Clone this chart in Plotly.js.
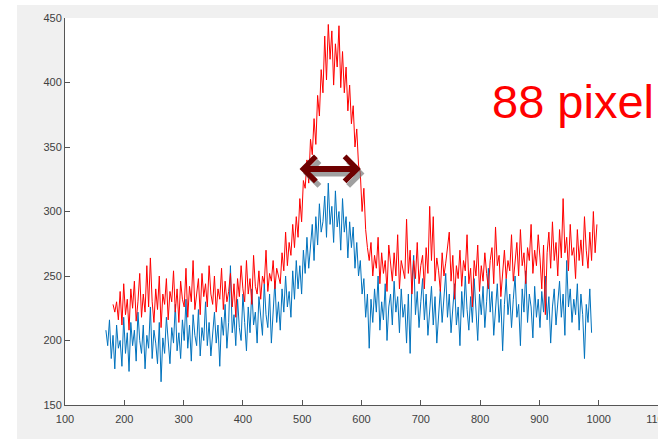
<!DOCTYPE html>
<html>
<head>
<meta charset="utf-8">
<script src="https://cdn.plot.ly/plotly-3.0.1.min.js"></script>
<style>
html,body{margin:0;padding:0;background:#ffffff;overflow:hidden;width:658px;height:439px;}
#frame{position:absolute;left:17px;top:5px;width:641px;height:434px;background:#f0f0f0;}
#chart{position:absolute;left:0;top:0;width:720px;height:439px;}
</style>
</head>
<body>
<div id="frame"></div>
<div id="chart"></div>
<script>
// ---- data ----
const sampleStep = 3;
const redStart = 181;
const blueStart = 169;

const redValues = [
228,222,230,216,238,212,244,220,232,208,240,225,246,215,230,252,218,236,222,258,
226,264,230,214,240,224,250,210,236,228,248,216,238,230,254,222,240,214,246,232,
226,256,218,242,230,262,224,238,248,220,252,234,244,226,258,236,228,250,222,240,
232,256,224,246,230,238,252,226,244,218,248,234,258,240,230,262,236,248,228,266,
242,236,254,232,250,244,270,238,252,246,262,240,256,250,244,268,254,284,258,276,
266,290,272,296,280,310,292,324,318,340,322,356,344,372,352,390,374,410,392,436,
402,445,418,440,398,430,412,444,396,424,392,412,378,398,368,382,350,364,336,330,
300,318,286,272,262,276,250,266,256,280,244,268,252,262,238,274,258,246,268,250,
282,240,262,256,248,294,252,270,236,262,248,276,244,258,266,240,272,252,304,262,
296,246,264,254,238,268,250,260,272,284,246,266,232,258,248,270,242,262,254,282,
244,256,226,262,250,274,238,258,246,268,252,240,262,272,244,288,258,266,234,256,
270,248,262,254,282,246,264,276,250,286,258,268,244,272,262,290,252,270,258,282,
264,240,274,220,268,284,256,292,262,276,250,286,264,310,268,280,254,290,266,272,
248,286,262,278,258,296,270,256,284,262,300,268,290
];

const blueValues = [
208,196,216,186,204,178,212,194,200,180,218,190,206,176,214,196,208,184,222,200,
190,212,178,204,194,226,186,208,198,182,214,168,202,190,218,196,182,210,198,228,
192,206,186,216,200,232,194,212,184,220,204,196,224,188,210,200,230,196,214,188,
206,222,198,212,180,218,204,228,194,214,258,206,220,196,232,210,200,236,214,192,
226,206,240,212,222,198,234,216,204,244,220,210,236,198,226,246,214,230,208,240,
222,250,226,238,218,254,232,262,240,258,236,270,252,280,256,272,290,262,296,274,
306,284,292,312,280,322,290,304,276,316,288,300,270,310,284,296,264,292,272,288,
256,276,250,262,236,248,218,236,194,232,214,240,222,250,208,230,216,244,200,226,
236,212,246,222,234,206,240,218,228,198,236,190,244,266,220,238,210,230,248,216,
236,204,226,242,212,234,198,222,240,214,230,252,218,236,206,228,244,212,226,196,
238,218,250,224,208,234,214,248,226,200,236,220,242,210,230,256,222,238,204,226,
244,214,232,192,228,248,220,236,210,232,250,218,228,196,240,222,254,214,236,226,
202,242,218,232,210,238,222,250,216,234,198,226,240,212,230,246,218,236,204,262,
226,240,214,232,220,244,208,236,220,186,228,214,240,206
];

const xTickVals = [100,200,300,400,500,600,700,800,900,1000,1100];
const yTickVals = [150,200,250,300,350,400,450];
const xRange = [100,1100];
const yRange = [150,450];

// arrow (annotation) endpoints and label
const arrowLeft = 493;
const arrowRight = 599;
const arrowY = 333;
const labelText = "88 pixel";

// ---- figure ----
const traces = [
  {type:'scatter', mode:'lines', x0:blueStart, dx:sampleStep, y:blueValues,
   line:{color:'#0072bd', width:1}, hoverinfo:'skip', showlegend:false},
  {type:'scatter', mode:'lines', x0:redStart, dx:sampleStep, y:redValues,
   line:{color:'#ff0000', width:1}, hoverinfo:'skip', showlegend:false}
];

const tickFont = {family:'Liberation Sans, Arial, sans-serif', size:11, color:'#404040'};

const arrowBase = {
  xref:'x', yref:'y', axref:'x', ayref:'y', text:'', showarrow:true,
  arrowside:'end+start', arrowhead:4, startarrowhead:4,
  arrowwidth:6, arrowsize:0.8, startarrowsize:0.8, standoff:0, startstandoff:0
};

const layout = {
  width:720, height:439,
  margin:{l:65, r:62, t:18, b:34, pad:0},
  paper_bgcolor:'rgba(0,0,0,0)',
  plot_bgcolor:'#ffffff',
  showlegend:false,
  xaxis:{range:xRange, tickvals:xTickVals, ticktext:xTickVals.map(String),
         ticks:'inside', ticklen:5, tickwidth:1, tickcolor:'#555555',
         showline:true, linecolor:'#555555', linewidth:1, mirror:false,
         showgrid:false, zeroline:false, tickfont:tickFont, fixedrange:true,
         ticklabelstandoff:4},
  yaxis:{range:yRange, tickvals:yTickVals, ticktext:yTickVals.map(String),
         ticks:'inside', ticklen:5, tickwidth:1, tickcolor:'#555555',
         showline:true, linecolor:'#555555', linewidth:1, mirror:false,
         showgrid:false, zeroline:false, tickfont:tickFont, fixedrange:true},
  annotations:[
    Object.assign({}, arrowBase, {x:arrowRight+6, y:arrowY-3.5, ax:arrowLeft+6, ay:arrowY-3.5,
                                   arrowcolor:'rgba(120,120,120,0.7)'}),
    Object.assign({}, arrowBase, {x:arrowRight, y:arrowY, ax:arrowLeft, ay:arrowY,
                                   arrowcolor:'#6e0000'}),
    {xref:'paper', yref:'paper', x:0.717, y:0.785, xanchor:'left', yanchor:'middle',
     text:labelText, showarrow:false,
     font:{family:'Liberation Sans, Arial, sans-serif', size:47, color:'#ff0000'}}
  ]
};

Plotly.newPlot('chart', traces, layout, {staticPlot:true, displayModeBar:false});
</script>
</body>
</html>
